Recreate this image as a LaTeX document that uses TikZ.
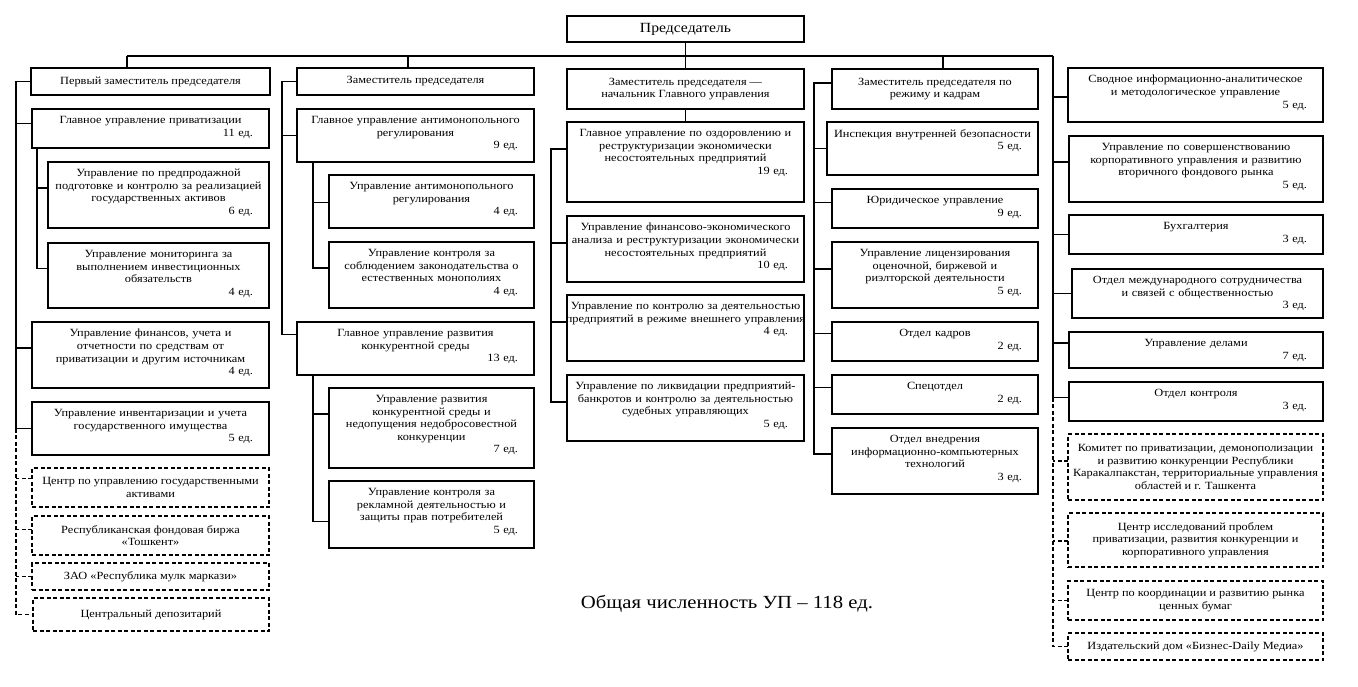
\documentclass[tikz,border=0pt]{standalone}
\usepackage{fontspec}
\setmainfont{Liberation Serif}[FakeStretch=1.12]
\tikzset{
  box/.style={draw, line width=1.2pt, inner sep=0pt, outer sep=0pt},
  dbox/.style={box, dash pattern=on 4pt off 2.5pt},
  txt/.style={inner sep=0pt, align=center, font=\fontsize{11}{12.6}\selectfont},
  conn/.style={line width=1.2pt},
  dconn/.style={conn, dash pattern=on 4pt off 2.5pt},
}
% box with text at top and a count line
\newcommand\cbox[7]{%
  \pgfmathsetmacro\bw{#4-#2}\pgfmathsetmacro\bh{#5-#3}\pgfmathsetmacro\tw{#4-#2-2}%
  \node[box, minimum width=\bw pt, minimum height=\bh pt, anchor=north west] (#1) at (#2,#3) {};
  \node[txt, anchor=north, text width=\tw pt] (#1-t) at ([yshift=-7pt]#1.north) {#6\\\makebox[\hsize][r]{#7\hspace*{15pt}}};
}
% box with centred text only
\newcommand\tbox[7]{%
  \pgfmathsetmacro\bw{#5-#3}\pgfmathsetmacro\bh{#6-#4}%
  \node[#2, minimum width=\bw pt, minimum height=\bh pt, anchor=north west] (#1) at (#3,#4) {};
  \node[txt] (#1-t) at (#1.center) {#7};
}
\newcommand\fl[1]{\makebox[\hsize]{#1}}
\begin{document}
\begin{tikzpicture}[x=1pt,y=-1pt]
\fill[white] (0,0) rectangle (1358,687);
\useasboundingbox (0,0) rectangle (1358,687);

% chairman
\pgfmathsetmacro\bw{237}
\node[box, minimum width=237pt, minimum height=26pt, anchor=north west] (chair) at (567,16) {};
\node[inner sep=0pt, font=\fontsize{14}{16}\selectfont] (chair-t) at (chair.center) {Председатель};

% column 1
\tbox{d1}{box}{31}{68}{270}{95}{Первый заместитель председателя}
\cbox{gp}{32}{109}{269}{148}{Главное управление приватизации}{11 ед.}
\cbox{pred}{48}{162}{269}{228}{Управление по предпродажной\\подготовке и контролю за реализацией\\государственных активов}{6 ед.}
\cbox{mon}{48}{243}{269}{308}{Управление мониторинга за\\выполнением инвестиционных\\обязательств}{4 ед.}
\cbox{fin}{32}{322}{269}{388}{Управление финансов, учета и\\отчетности по средствам от\\приватизации и другим источникам}{4 ед.}
\cbox{inv}{32}{402}{269}{455}{Управление инвентаризации и учета\\государственного имущества}{5 ед.}
\tbox{cu}{dbox}{32}{468}{269}{507}{Центр по управлению государственными\\активами}
\tbox{rfb}{dbox}{32}{516}{269}{555}{Республиканская фондовая биржа\\«Тошкент»}
\tbox{zao}{dbox}{32}{563}{269}{590}{ЗАО «Республика мулк маркази»}
\tbox{dep}{dbox}{33}{598}{269}{631}{Центральный депозитарий}

% column 2
\tbox{d2}{box}{297}{68}{534}{95}{Заместитель председателя}
\cbox{gam}{297}{109}{534}{162}{Главное управление антимонопольного\\регулирования}{9 ед.}
\cbox{uam}{329}{175}{534}{228}{Управление антимонопольного\\регулирования}{4 ед.}
\cbox{kem}{329}{242}{534}{308}{Управление контроля за\\соблюдением законодательства о\\естественных монополиях}{4 ед.}
\cbox{grk}{297}{322}{534}{375}{Главное управление развития\\конкурентной среды}{13 ед.}
\cbox{urk}{329}{388}{534}{468}{Управление развития\\конкурентной среды и\\недопущения недобросовестной\\конкуренции}{7 ед.}
\cbox{rek}{329}{481}{534}{548}{Управление контроля за\\рекламной деятельностью и\\защиты прав потребителей}{5 ед.}

% column 3
\tbox{d3}{box}{567}{69}{804}{109}{Заместитель председателя —\\начальник Главного управления}
\cbox{oz}{567}{122}{804}{202}{Главное управление по оздоровлению и\\реструктуризации экономически\\несостоятельных предприятий}{19 ед.}
\cbox{fe}{567}{216}{804}{282}{Управление финансово-экономического\\\fl{анализа и реструктуризации экономически}\\несостоятельных предприятий}{10 ед.}
\cbox{vu}{567}{295}{804}{361}{\fl{Управление по контролю за деятельностью}\\\fl{предприятий в режиме внешнего управления}}{4 ед.}
\cbox{lb}{567}{375}{804}{441}{Управление по ликвидации предприятий-\\банкротов и контролю за деятельностью\\судебных управляющих}{5 ед.}

% column 4
\tbox{d4}{box}{832}{69}{1038}{109}{Заместитель председателя по\\режиму и кадрам}
\cbox{ivb}{827}{122}{1038}{175}{\fl{Инспекция внутренней безопасности}}{5 ед.}
\cbox{yu}{832}{189}{1038}{228}{Юридическое управление}{9 ед.}
\cbox{lic}{832}{242}{1038}{308}{Управление лицензирования\\оценочной, биржевой и\\риэлторской деятельности}{5 ед.}
\cbox{okd}{832}{322}{1038}{361}{Отдел кадров}{2 ед.}
\cbox{spc}{832}{375}{1038}{414}{Спецотдел}{2 ед.}
\cbox{vn}{832}{428}{1038}{494}{Отдел внедрения\\информационно-компьютерных\\технологий}{3 ед.}

% column 5
\cbox{sv}{1068}{68}{1323}{122}{Сводное информационно-аналитическое\\и методологическое управление}{5 ед.}
\cbox{sk}{1069}{136}{1323}{202}{Управление по совершенствованию\\корпоративного управления и развитию\\вторичного фондового рынка}{5 ед.}
\cbox{bux}{1069}{215}{1323}{254}{Бухгалтерия}{3 ед.}
\cbox{mez}{1072}{269}{1323}{318}{Отдел международного сотрудничества\\и связей с общественностью}{3 ед.}
\cbox{ud}{1069}{332}{1323}{368}{Управление делами}{7 ед.}
\cbox{kon}{1069}{382}{1323}{421}{Отдел контроля}{3 ед.}
\tbox{kom}{dbox}{1068}{434}{1323}{500}{Комитет по приватизации, демонополизации\\и развитию конкуренции Республики\\\fl{Каракалпакстан, территориальные управления}\\областей и г. Ташкента}
\tbox{cip}{dbox}{1068}{513}{1323}{567}{Центр исследований проблем\\приватизации, развития конкуренции и\\корпоративного управления}
\tbox{ckr}{dbox}{1068}{581}{1323}{620}{Центр по координации и развитию рынка\\ценных бумаг}
\tbox{izd}{dbox}{1068}{633}{1323}{660}{Издательский дом «Бизнес-Daily Медиа»}

% total
\node[inner sep=0pt, font=\fontsize{18.5}{22}\selectfont] (total) at (727,604) {Общая численность УП – 118 ед.};

% ---- connectors ----
\coordinate (b1) at (127,56);
\coordinate (b2) at (408,56);
\coordinate (b4) at (943,56);
\coordinate (b5) at (1053,56);
\draw[conn] (b1) -- (b5);
\draw[conn] (chair) -- (d3);
\draw[conn] (b1) -- (b1 |- d1.north);
\draw[conn] (b2) -- (b2 |- d2.north);
\draw[conn] (b4) -- (b4 |- d4.north);
\draw[conn] (d3) -- (oz);

% column 1
\coordinate (s1) at (16,0);
\coordinate (ss1) at (37,0);
\draw[conn] (d1.west) -| (s1 |- inv.west) -- (inv.west);
\draw[conn] (s1 |- gp.west) ++(0,-5) -- ([yshift=5pt]gp.west);
\draw[conn] ([yshift=7pt]fin.west) -- ([yshift=7pt]fin.west -| s1);
\draw[conn] (ss1 |- gp.south) |- ([yshift=7pt]mon.west);
\draw[conn] ([yshift=7pt]pred.west) -- ([yshift=7pt]pred.west -| ss1);
\draw[dconn] (s1 |- inv.west) |- (dep.west);
\draw[dconn] ([yshift=9pt]cu.west) -- ([yshift=9pt]cu.west -| s1);
\draw[dconn] ([yshift=6pt]rfb.west) -- ([yshift=6pt]rfb.west -| s1);
\draw[dconn] (zao.west) -- (zao.west -| s1);

% column 2
\coordinate (s2) at (282,0);
\coordinate (ss2) at (313,0);
\draw[conn] (d2.west) -| ([yshift=14pt]s2 |- grk.west) -- ([yshift=14pt]grk.west);
\draw[conn] (gam.west) -- (gam.west -| s2);
\draw[conn] (ss2 |- gam.south) |- ([yshift=7pt]kem.west);
\draw[conn] ([yshift=-1pt]uam.west) -- ([yshift=-1pt]uam.west -| ss2);
\draw[conn] (ss2 |- grk.south) |- ([yshift=-7pt]rek.west);
\draw[conn] ([yshift=14pt]urk.west) -- ([yshift=14pt]urk.west -| ss2);

% column 3
\coordinate (s3) at (551,0);
\draw[conn] ([yshift=13pt]oz.west) -| ([yshift=6pt]s3 |- lb.west) -- ([yshift=6pt]lb.west);
\draw[conn] ([yshift=6pt]fe.west) -- ([yshift=6pt]fe.west -| s3);
\draw[conn] ([yshift=6pt]vu.west) -- ([yshift=6pt]vu.west -| s3);

% column 4
\coordinate (s4) at (814,0);
\draw[conn] ([yshift=6pt]d4.west) -| ([yshift=7pt]s4 |- vn.west) -- ([yshift=7pt]vn.west);
\draw[conn] (ivb.west) -- (ivb.west -| s4);
\draw[conn] ([yshift=6pt]yu.west) -- ([yshift=6pt]yu.west -| s4);
\draw[conn] ([yshift=6pt]lic.west) -- ([yshift=6pt]lic.west -| s4);
\draw[conn] ([yshift=8pt]okd.west) -- ([yshift=8pt]okd.west -| s4);
\draw[conn] ([yshift=7pt]spc.west) -- ([yshift=7pt]spc.west -| s4);

% column 5
\draw[conn] (b5) |- ([yshift=4pt]kon.west);
\draw[conn] ([yshift=-2pt]sv.west) -- ([yshift=-2pt]sv.west -| b5);
\draw[conn] ([yshift=7pt]sk.west) -- ([yshift=7pt]sk.west -| b5);
\draw[conn] (bux.west) -- (bux.west -| b5);
\draw[conn] (mez.west) -- (mez.west -| b5);
\draw[conn] ([yshift=7pt]ud.west) -- ([yshift=7pt]ud.west -| b5);
\draw[dconn] ([yshift=4pt]b5 |- kon.west) |- (izd.west);
\draw[dconn] ([yshift=6pt]kom.west) -- ([yshift=6pt]kom.west -| b5);
\draw[dconn] ([yshift=-1pt]cip.west) -- ([yshift=-1pt]cip.west -| b5);
\draw[dconn] (ckr.west) -- (ckr.west -| b5);
\end{tikzpicture}
\end{document}
